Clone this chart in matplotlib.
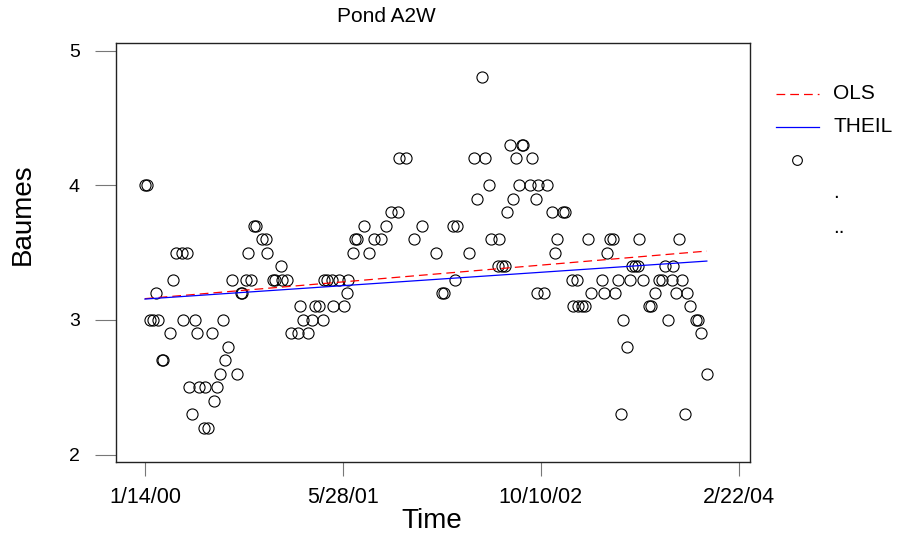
import numpy as np
import pandas as pd
import matplotlib
matplotlib.use('Agg')
import matplotlib.pyplot as plt
from matplotlib.lines import Line2D

plt.rcParams['font.family'] = ['Liberation Sans', 'DejaVu Sans']

# sample dates as days after the first sample (1/14/00)
start = pd.Timestamp('2000-01-14')
day = [0, 5, 13, 20, 28, 33, 43, 45, 63, 71, 78, 93, 96, 106, 111, 119, 126, 131,
       136, 149, 152, 159, 169, 174, 182, 189, 197, 202, 210, 220, 232, 242, 245,
       255, 260, 268, 275, 280, 295, 306, 309, 323, 328, 343, 346, 359, 369, 386,
       391, 399, 412, 422, 429, 439, 449, 452, 460, 472, 475, 490, 502, 510, 513,
       525, 530, 535, 553, 566, 578, 596, 609, 621, 639, 641, 659, 679, 699, 735,
       750, 755, 778, 783, 788, 818, 831, 838, 851, 859, 869, 874, 891, 894, 901,
       909, 914, 922, 929, 937, 944, 952, 954, 972, 977, 987, 990, 992, 1007, 1015,
       1028, 1035, 1040, 1055, 1060, 1078, 1081, 1091, 1093, 1103, 1111, 1119, 1126,
       1154, 1159, 1167, 1174, 1182, 1187, 1194, 1202, 1207, 1217, 1225, 1230, 1237,
       1245, 1247, 1257, 1273, 1278, 1288, 1298, 1305, 1313, 1321, 1331, 1333, 1341,
       1348, 1356, 1364, 1369, 1376, 1391, 1396, 1404, 1419]
baumes = [4.0, 4.0, 3.0, 3.0, 3.2, 3.0, 2.7, 2.7, 2.9, 3.3, 3.5, 3.5, 3.0, 3.5, 2.5,
          2.3, 3.0, 2.9, 2.5, 2.2, 2.5, 2.2, 2.9, 2.4, 2.5, 2.6, 3.0, 2.7, 2.8, 3.3,
          2.6, 3.2, 3.2, 3.3, 3.5, 3.3, 3.7, 3.7, 3.6, 3.6, 3.5, 3.3, 3.3, 3.4, 3.3,
          3.3, 2.9, 2.9, 3.1, 3.0, 2.9, 3.0, 3.1, 3.1, 3.0, 3.3, 3.3, 3.3, 3.1, 3.3,
          3.1, 3.2, 3.3, 3.5, 3.6, 3.6, 3.7, 3.5, 3.6, 3.6, 3.7, 3.8, 3.8, 4.2, 4.2,
          3.6, 3.7, 3.5, 3.2, 3.2, 3.7, 3.3, 3.7, 3.5, 4.2, 3.9, 4.8, 4.2, 4.0, 3.6,
          3.4, 3.6, 3.4, 3.4, 3.8, 4.3, 3.9, 4.2, 4.0, 4.3, 4.3, 4.0, 4.2, 3.9, 3.2,
          4.0, 3.2, 4.0, 3.8, 3.5, 3.6, 3.8, 3.8, 3.3, 3.1, 3.3, 3.1, 3.1, 3.1, 3.6,
          3.2, 3.3, 3.2, 3.5, 3.6, 3.6, 3.2, 3.3, 2.3, 3.0, 2.8, 3.3, 3.4, 3.4, 3.4,
          3.6, 3.3, 3.1, 3.1, 3.2, 3.3, 3.3, 3.4, 3.0, 3.3, 3.4, 3.2, 3.6, 3.3, 2.3,
          3.2, 3.1, 3.0, 3.0, 2.9, 2.6]
tick_labels = ['1/14/00', '5/28/01', '10/10/02', '2/22/04']
yticks = [2, 3, 4, 5]

t = start + pd.to_timedelta(day, unit='D')
x = np.array(day, dtype=float)
y = np.array(baumes)

# OLS fit
b1, b0 = np.polyfit(x, y, 1)
# Theil-Sen fit
i, j = np.triu_indices(len(x), 1)
dx = x[j] - x[i]
ok = dx != 0
th_slope = np.median((y[j] - y[i])[ok] / dx[ok])
th_icpt = np.median(y - th_slope * x)

W, H = 898, 539
fig = plt.figure(figsize=(W / 100, H / 100), dpi=100)
ax = fig.add_axes([116 / W, 1 - 462 / H, (750 - 116) / W, (462 - 43) / H])

ax.plot(t, y, 'o', ms=8, mfc='none', mec='black', mew=0.8, zorder=2)
ends = np.array([x[0], x[-1]])
tt = [t[0], t[-1]]
ax.plot(tt, b0 + b1 * ends, color='red', lw=0.9, dashes=(7, 4), zorder=3)
ax.plot(tt, th_icpt + th_slope * ends, color='blue', lw=0.9, zorder=3)

ax.set_xlim(start - pd.Timedelta(days=73), start + pd.Timedelta(days=1528))
ax.set_ylim(1.945, 5.056)
ax.set_xticks(pd.to_datetime(tick_labels, format='%m/%d/%y'))
ax.set_xticklabels(tick_labels)
ax.set_yticks(yticks)
ax.set_yticklabels([str(v) for v in yticks])
ax.tick_params(axis='x', length=10, width=0.8, color='#777777', labelsize=15.5, pad=8)
ax.tick_params(axis='y', length=15, width=0.8, color='#777777', labelsize=14, pad=11)
for s in ax.spines.values():
    s.set_linewidth(1.0)
    s.set_color('#222222')

def fx(px):
    return px / W

def fy(py):
    return 1 - py / H

fig.text(fx(386), fy(17), 'Pond A2W', ha='center', va='center', fontsize=15)
fig.text(fx(432), fy(521), 'Time', ha='center', va='center', fontsize=20)
fig.text(fx(23), fy(214), 'Baumes', ha='center', va='center', fontsize=20, rotation=90)

# legend drawn by hand, right of the box
fig.add_artist(Line2D([fx(776), fx(819)], [fy(94), fy(94)], color='red', lw=0.9, dashes=(7, 4)))
fig.add_artist(Line2D([fx(776), fx(819)], [fy(127), fy(127)], color='blue', lw=0.9))
fig.add_artist(Line2D([fx(797)], [fy(160)], marker='o', ms=7, mfc='none', mec='black', mew=0.8))
fig.text(fx(833), fy(94), 'OLS', ha='left', va='center', fontsize=15)
fig.text(fx(833), fy(127), 'THEIL', ha='left', va='center', fontsize=15)
fig.text(fx(833), fy(198), '.', ha='left', va='baseline', fontsize=15)
fig.text(fx(833), fy(233), '..', ha='left', va='baseline', fontsize=15)

fig.savefig('out.png', dpi=100)
